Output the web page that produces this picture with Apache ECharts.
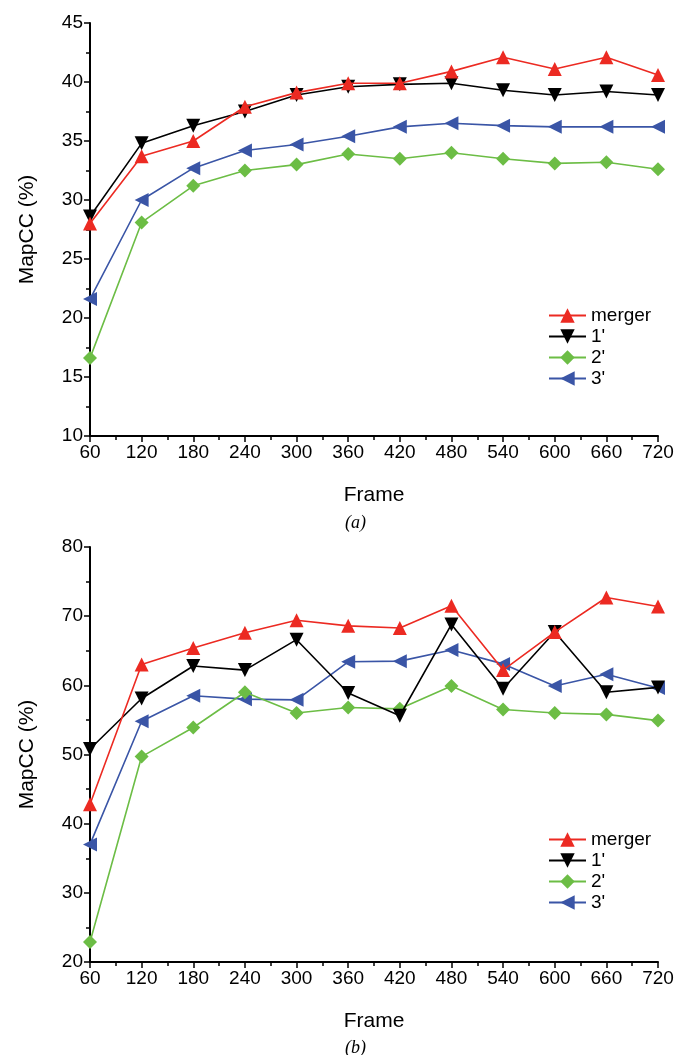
<!DOCTYPE html>
<html>
<head>
<meta charset="utf-8">
<script src="https://cdn.jsdelivr.net/npm/echarts@6/dist/echarts.min.js"></script>
<style>
  html, body { margin: 0; padding: 0; background: #fff; }
  #main { width: 680px; height: 1055px; }
</style>
</head>
<body>
<div id="main"></div>
<script>
// frames on the x axis
const frames = [60, 120, 180, 240, 300, 360, 420, 480, 540, 600, 660, 720];

// (a)
const aMerger = [28.0, 33.7, 35.0, 37.9, 39.1, 39.9, 39.9, 40.9, 42.1, 41.1, 42.1, 40.6];
const aOne    = [28.6, 34.8, 36.3, 37.5, 38.9, 39.6, 39.8, 39.9, 39.3, 38.9, 39.2, 38.9];
const aTwo    = [16.6, 28.1, 31.2, 32.5, 33.0, 33.9, 33.5, 34.0, 33.5, 33.1, 33.2, 32.6];
const aThree  = [21.6, 30.0, 32.7, 34.2, 34.7, 35.4, 36.2, 36.5, 36.3, 36.2, 36.2, 36.2];

// (b)
const bMerger = [42.8, 63.0, 65.4, 67.6, 69.4, 68.6, 68.3, 71.5, 62.2, 67.7, 72.7, 71.4];
const bOne    = [50.8, 58.1, 62.8, 62.2, 66.6, 58.9, 55.6, 68.8, 59.5, 67.7, 59.0, 59.7];
const bTwo    = [22.9, 49.7, 53.9, 59.0, 56.0, 56.8, 56.6, 59.9, 56.5, 56.0, 55.8, 54.9];
const bThree  = [37.0, 54.8, 58.5, 58.0, 57.9, 63.4, 63.5, 65.1, 63.1, 59.9, 61.6, 59.6];

const names = ['merger', "1'", "2'", "3'"];

const font = 'Liberation Sans, Arial, sans-serif';
const styles = [
  { color: '#ec2a22', symbol: 'triangle', rotate: 0 },
  { color: '#000000', symbol: 'triangle', rotate: 180 },
  { color: '#6cbd45', symbol: 'diamond', rotate: 0 },
  { color: '#3a55a6', symbol: 'triangle', rotate: 90 }
];

function pairs(vals) {
  return frames.map((f, i) => [f, vals[i]]);
}

function makeSeries(list, idx) {
  return list.map((vals, i) => ({
    name: names[i],
    type: 'line',
    xAxisIndex: idx,
    yAxisIndex: idx,
    data: pairs(vals),
    symbol: styles[i].symbol,
    symbolRotate: styles[i].rotate,
    symbolSize: 14,
    lineStyle: { color: styles[i].color, width: 1.6 },
    itemStyle: { color: styles[i].color },
    z: 10 - i
  }));
}

const axisLine = { show: true, onZero: false, lineStyle: { color: '#000', width: 2 } };
const axisTick = { show: true, inside: false, length: 6, lineStyle: { color: '#000', width: 1.5 } };
const minorTick = { show: true, splitNumber: 2, length: 4, lineStyle: { color: '#000', width: 1.5 } };
const axisLabel = { color: '#000', fontSize: 19, fontFamily: font, margin: 7 };

function xAxis(idx) {
  return {
    type: 'value', gridIndex: idx, min: 60, max: 720, interval: 60,
    name: 'Frame', nameLocation: 'middle', nameGap: 49,
    nameTextStyle: { color: '#000', fontSize: 21, fontFamily: font },
    axisLine, axisTick, minorTick, axisLabel,
    splitLine: { show: false }
  };
}

function yAxis(idx, min, max, interval) {
  return {
    type: 'value', gridIndex: idx, min, max, interval,
    name: 'MapCC (%)', nameLocation: 'middle', nameGap: 52,
    nameTextStyle: { color: '#000', fontSize: 21, fontFamily: font },
    axisLine, axisTick, minorTick, axisLabel,
    splitLine: { show: false }
  };
}

function legend(top) {
  return {
    data: names, orient: 'vertical', left: 543, top: top,
    itemWidth: 37, itemHeight: 18, itemGap: 2,
    textStyle: { color: '#000', fontSize: 19, fontFamily: font }
  };
}

const chart = echarts.init(document.getElementById('main'));
chart.setOption({
  animation: false,
  backgroundColor: '#fff',
  title: [
    { text: '(a)', left: 340, top: 509, textStyle: { fontFamily: 'Liberation Serif, serif', fontStyle: 'italic', fontWeight: 'normal', fontSize: 18, color: '#000' } },
    { text: '(b)', left: 340, top: 1034, textStyle: { fontFamily: 'Liberation Serif, serif', fontStyle: 'italic', fontWeight: 'normal', fontSize: 18, color: '#000' } }
  ],
  legend: [legend(301), legend(825)],
  grid: [
    { left: 90, right: 22, top: 23, height: 413 },
    { left: 90, right: 22, top: 547, height: 415 }
  ],
  xAxis: [xAxis(0), xAxis(1)],
  yAxis: [yAxis(0, 10, 45, 5), yAxis(1, 20, 80, 10)],
  series: [
    ...makeSeries([aMerger, aOne, aTwo, aThree], 0),
    ...makeSeries([bMerger, bOne, bTwo, bThree], 1)
  ]
});
</script>
</body>
</html>
